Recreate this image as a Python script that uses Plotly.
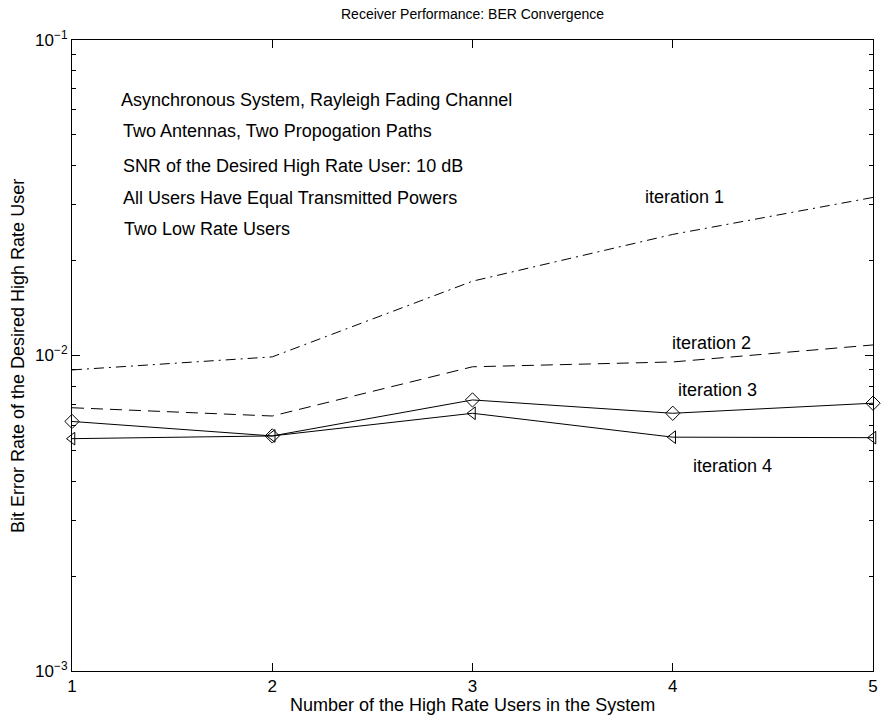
import plotly.graph_objects as go

# Number of high-rate users in the system
users = [1, 2, 3, 4, 5]

# Bit error rate of the desired high-rate user after each receiver iteration
ber_iter1 = [0.0090, 0.0099, 0.0172, 0.0242, 0.0317]
ber_iter2 = [0.00683, 0.00643, 0.00921, 0.00954, 0.0108]
ber_iter3 = [0.00618, 0.00556, 0.00723, 0.00656, 0.00706]
ber_iter4 = [0.00545, 0.00556, 0.00656, 0.00551, 0.00549]

x_ticks = [1, 2, 3, 4, 5]
y_ticks = [1e-3, 1e-2, 1e-1]
y_tick_text = ["10<sup>−3</sup>", "10<sup>−2</sup>", "10<sup>−1</sup>"]
y_minor = [m * 10.0 ** e for e in (-3, -2) for m in range(2, 10)]

info_lines = [
    "Asynchronous System, Rayleigh Fading Channel",
    "Two Antennas, Two Propogation Paths",
    "SNR of the Desired High Rate User: 10 dB",
    "All Users Have Equal Transmitted Powers",
    "Two Low Rate Users",
]
curve_names = ["iteration 1", "iteration 2", "iteration 3", "iteration 4"]

FONT = "Liberation Sans, Arial, Helvetica, sans-serif"
INK = "black"
W, H = 881, 721
L, R, T, B = 72, 873, 40, 671  # plot-area edges in pixels


def px_x(px):
    return (px - L) / (R - L)


def px_y(py):
    return (B - py) / (B - T)


fig = go.Figure()

fig.add_trace(go.Scatter(
    x=users, y=ber_iter1, mode="lines", name=curve_names[0],
    line=dict(color=INK, width=1, dash="10px,5px,2px,5px"),
))
fig.add_trace(go.Scatter(
    x=users, y=ber_iter2, mode="lines", name=curve_names[1],
    line=dict(color=INK, width=1, dash="12px,7px"),
))
fig.add_trace(go.Scatter(
    x=users, y=ber_iter3, mode="lines+markers", name=curve_names[2],
    line=dict(color=INK, width=1), cliponaxis=False,
    marker=dict(symbol="diamond-open", size=11, color=INK, line=dict(width=1, color=INK)),
))
fig.add_trace(go.Scatter(
    x=users, y=ber_iter4, mode="lines+markers", name=curve_names[3],
    line=dict(color=INK, width=1), cliponaxis=False,
    marker=dict(symbol="triangle-left-open", size=11, color=INK, line=dict(width=1, color=INK)),
))

text_font = dict(size=18, color=INK, family=FONT)

# Simulation settings block (left edge px, centre px)
info_pos = [(119, 100), (121, 131), (121, 166), (121, 198), (122, 229)]
for txt, (px, py) in zip(info_lines, info_pos):
    fig.add_annotation(
        x=px_x(px), y=px_y(py), xref="paper", yref="paper", text=txt,
        showarrow=False, xanchor="left", yanchor="middle", font=text_font,
    )

# Curve labels
label_pos = [(643, 197), (670, 343), (676, 390), (691, 466)]
for txt, (px, py) in zip(curve_names, label_pos):
    fig.add_annotation(
        x=px_x(px), y=px_y(py), xref="paper", yref="paper", text=txt,
        showarrow=False, xanchor="left", yanchor="middle", font=text_font,
    )

# Axis titles
fig.add_annotation(
    x=0.5, y=px_y(705), xref="paper", yref="paper",
    text="Number of the High Rate Users in the System",
    showarrow=False, xanchor="center", yanchor="middle", font=text_font,
)
fig.add_annotation(
    x=px_x(18), y=px_y(356), xref="paper", yref="paper",
    text="Bit Error Rate of the Desired High Rate User", textangle=-90,
    showarrow=False, xanchor="center", yanchor="middle", font=text_font,
)

fig.update_layout(
    width=W, height=H,
    margin=dict(l=L, r=W - R, t=T, b=H - B, autoexpand=False),
    paper_bgcolor="white", plot_bgcolor="white",
    showlegend=False,
    font=dict(family=FONT, size=18, color=INK),
    title=dict(
        text="Receiver Performance: BER Convergence",
        x=(L + R) / 2 / W, xanchor="center", y=1 - 14 / H, yanchor="middle",
        font=dict(size=14, color=INK, family=FONT),
    ),
    xaxis=dict(
        range=[1, 5], tickvals=x_ticks, ticktext=[str(v) for v in x_ticks],
        ticks="inside", ticklen=8, tickwidth=1, tickcolor=INK,
        showline=True, linecolor=INK, linewidth=1, mirror="ticks",
        showgrid=False, zeroline=False, automargin=False,
        tickfont=dict(size=17, color=INK, family=FONT),
    ),
    yaxis=dict(
        type="log", range=[-3, -1], tickvals=y_ticks, ticktext=y_tick_text,
        ticks="inside", ticklen=8, tickwidth=1, tickcolor=INK,
        showline=True, linecolor=INK, linewidth=1, mirror="ticks",
        showgrid=False, zeroline=False, automargin=False,
        tickfont=dict(size=17, color=INK, family=FONT),
        minor=dict(tickvals=y_minor, ticks="inside", ticklen=4, tickcolor=INK, showgrid=False),
    ),
)

fig.write_html("out.html")
